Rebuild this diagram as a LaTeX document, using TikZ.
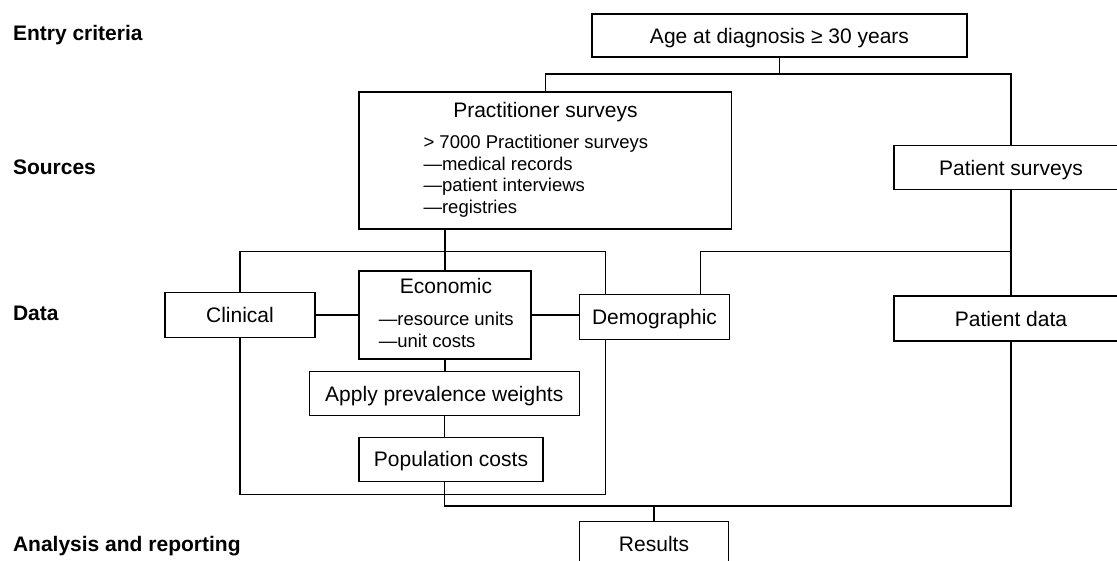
\documentclass[tikz,border=0pt]{standalone}
\usepackage{fontspec}
\setmainfont{Liberation Sans}
\begin{document}
\begin{tikzpicture}[x=1pt,y=-1pt,line width=1.1pt,
 box/.style={draw,inner sep=0pt,text height=15pt,text depth=0pt,font=\fontsize{21}{25}\selectfont},
 head/.style={anchor=base,inner sep=0pt,font=\fontsize{21}{25}\selectfont},
 item/.style={anchor=base west,inner sep=0pt,font=\fontsize{18.5}{22}\selectfont},
 stage/.style={anchor=base west,inner sep=0pt,font=\fontsize{21}{25}\selectfont\bfseries}]
\path[use as bounding box,clip] (0,0) rectangle (1117,560);
\node[stage] (lentry) at (12.5,40){Entry criteria};
\node[stage] (lsrc) at (12.5,174){Sources};
\node[stage] (ldata) at (12.5,320){Data};
\node[stage] (lrep) at (12.5,551){Analysis and reporting};
\node[box,minimum width=375pt,minimum height=43pt] (age) at (779.5,35.5){Age at diagnosis ≥ 30 years};
\node[box,minimum width=372.6pt,minimum height=137pt] (prac) at (545.3,160.5){};
\node[head] (pracT) at (545.5,117){Practitioner surveys};
\node[item] (prac1) at (423,148){> 7000 Practitioner surveys};
\node[item] (prac2) at (423,170){—medical records};
\node[item] (prac3) at (423,191.7){—patient interviews};
\node[item] (prac4) at (423,213.3){—registries};
\node[box,minimum width=234pt,minimum height=43.5pt] (psurv) at (1011,167.5){Patient surveys};
\node[box,minimum width=150pt,minimum height=44.5pt] (clin) at (240,315){Clinical};
\node[box,minimum width=172pt,minimum height=88pt] (econ) at (445,315){};
\node[head] (econT) at (446,293.3){Economic};
\node[item] (econ1) at (378.3,325){—resource units};
\node[item] (econ2) at (378.3,347.3){—unit costs};
\node[box,minimum width=150pt,minimum height=44.7pt] (demo) at (654.5,316.7){Demographic};
\node[box,minimum width=234pt,minimum height=45pt] (pdata) at (1011,318.5){Patient data};
\node[box,minimum width=270.5pt,minimum height=44pt] (apply) at (444.3,393.7){Apply prevalence weights};
\node[box,minimum width=184pt,minimum height=43.7pt] (pop) at (451,459.2){Population costs};
\node[box,minimum width=149pt,minimum height=44pt] (res) at (654,543.7){Results};
\coordinate (j1) at (0,74);\coordinate (bar) at (0,251.7);
\coordinate (loop) at (0,494.3);\coordinate (base) at (0,506);
\coordinate (dl) at ([xshift=26.5pt]demo.north west);
\coordinate (dr) at ([xshift=-30pt]demo.north east);
\coordinate (dls) at ([xshift=26.5pt]demo.south west);
\draw (age.south) -- (age.south |- j1);
\draw (prac.north) -- (prac.north |- j1) -- (psurv.north |- j1) -- (psurv.north);
\draw (econ.north) -- (econ.north |- prac.south);
\draw (clin.north) -- (clin.north |- bar) -- (dl |- bar) -- (dl);
\draw (dr) -- (dr |- bar) -- (psurv.south |- bar);
\draw (psurv.south) -- (pdata.north);
\draw (clin.east) -- (clin.east -| econ.west);
\draw (econ.east) -- (econ.east -| demo.west);
\draw (econ.south) -- (econ.south |- apply.north);
\draw (apply.south) -- (apply.south |- pop.north);
\draw (clin.south) -- (clin.south |- loop) -- (dls |- loop) -- (dls);
\draw (apply.south |- pop.south) -- (apply.south |- base) -- (pdata.south |- base) -- (pdata.south);
\draw (res.north) -- (res.north |- base);
\end{tikzpicture}
\end{document}
